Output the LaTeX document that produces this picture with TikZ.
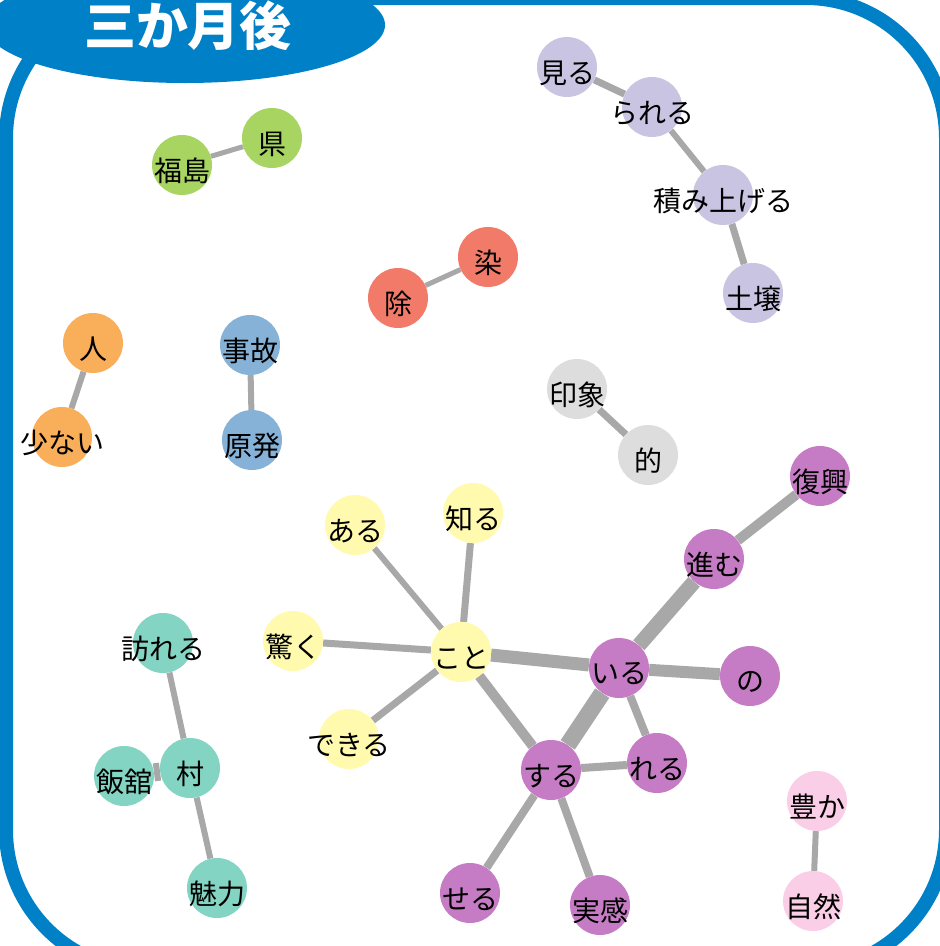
\documentclass[tikz,border=0pt]{standalone}
\usepackage{fontspec}
\newfontfamily\jp{Noto Sans CJK JP}
\usetikzlibrary{backgrounds}
\definecolor{frameblue}{RGB}{0,128,198}
\definecolor{edgegray}{RGB}{168,168,168}
\definecolor{cgreen}{RGB}{168,213,98}
\definecolor{csalmon}{RGB}{241,122,104}
\definecolor{clav}{RGB}{200,196,226}
\definecolor{corange}{RGB}{249,174,90}
\definecolor{cblue}{RGB}{134,178,216}
\definecolor{cgray}{RGB}{221,221,221}
\definecolor{cpurple}{RGB}{198,124,196}
\definecolor{cyellow}{RGB}{255,250,174}
\definecolor{cteal}{RGB}{132,212,195}
\definecolor{cpink}{RGB}{250,206,230}
\tikzset{
  wnode/.style={circle, minimum size=60pt, inner sep=0pt, draw=none},
  lbl/.style={font=\jp\fontsize{28}{28}\selectfont, text=black, inner sep=0pt, yshift=-6pt},
  conn/.style={draw=edgegray, line width=#1},
}
\newcommand{\wn}[5]{\node[wnode, fill=#1, label={[lbl]center:#5}] (#2) at (#3,#4) {};}
\begin{document}
\begin{tikzpicture}[x=1pt, y=-1pt]
\useasboundingbox (0,0) rectangle (940,946);
\begin{scope}
\clip (0,0) rectangle (940,946);
\draw[frameblue, line width=14pt, rounded corners=140pt] (6,-2) rectangle (946,970);
\fill[frameblue] (185,25) ellipse [x radius=200, y radius=58];
\node[font=\jp\bfseries\fontsize{52}{52}\selectfont, text=white] (title) at (188,26) {三か月後};
\end{scope}
% nodes
\wn{cgreen}{ken}{272}{138}{県}
\wn{cgreen}{fukushima}{182}{165}{福島}
\wn{csalmon}{sen}{488}{257}{染}
\wn{csalmon}{jo}{398}{298}{除}
\wn{clav}{miru}{567}{67}{見る}
\wn{clav}{rareru}{652}{107}{られる}
\wn{clav}{tsumi}{723}{195}{積み上げる}
\wn{clav}{dojo}{753}{293}{土壌}
\wn{corange}{hito}{93}{343}{人}
\wn{corange}{sukunai}{62}{437}{少ない}
\wn{cblue}{jiko}{250}{345}{事故}
\wn{cblue}{genpatsu}{252}{440}{原発}
\wn{cgray}{insho}{577}{389}{印象}
\wn{cgray}{teki}{648}{455}{的}
\wn{cpurple}{fukko}{820}{476}{復興}
\wn{cpurple}{susumu}{714}{559}{進む}
\wn{cpurple}{iru}{619}{668}{いる}
\wn{cpurple}{no}{750}{676}{の}
\wn{cpurple}{reru}{657}{763}{れる}
\wn{cpurple}{suru}{551}{770}{する}
\wn{cpurple}{seru}{470}{893}{せる}
\wn{cpurple}{jikkan}{600}{905}{実感}
\wn{cyellow}{koto}{461}{652}{こと}
\wn{cyellow}{aru}{355}{525}{ある}
\wn{cyellow}{shiru}{473}{513}{知る}
\wn{cyellow}{odoroku}{293}{641}{驚く}
\wn{cyellow}{dekiru}{349}{739}{できる}
\wn{cteal}{otozureru}{163}{643}{訪れる}
\wn{cteal}{iitate}{124}{776}{飯舘}
\wn{cteal}{mura}{190}{768}{村}
\wn{cteal}{maryoku}{217}{888}{魅力}
\wn{cpink}{yutaka}{817}{801}{豊か}
\wn{cpink}{shizen}{813}{901}{自然}
% connectors
\begin{scope}[on background layer]
\draw[conn=5] (fukushima) -- (ken);
\draw[conn=5] (jo) -- (sen);
\draw[conn=7] (miru) -- (rareru);
\draw[conn=6] (rareru) -- (tsumi);
\draw[conn=7] (tsumi) -- (dojo);
\draw[conn=6] (hito) -- (sukunai);
\draw[conn=6] (jiko) -- (genpatsu);
\draw[conn=7] (insho) -- (teki);
\draw[conn=6] (yutaka) -- (shizen);
\draw[conn=6] (otozureru) -- (mura);
\draw[conn=6] (mura) -- (maryoku);
\draw[conn=18] (iitate) -- (mura);
\draw[conn=6] (koto) -- (aru);
\draw[conn=7] (koto) -- (shiru);
\draw[conn=7] (koto) -- (odoroku);
\draw[conn=7] (koto) -- (dekiru);
\draw[conn=13] (koto) -- (iru);
\draw[conn=10] (koto) -- (suru);
\draw[conn=17] (iru) -- (suru);
\draw[conn=15] (iru) -- (susumu);
\draw[conn=10] (susumu) -- (fukko);
\draw[conn=12] (iru) -- (no);
\draw[conn=8] (iru) -- (reru);
\draw[conn=8] (suru) -- (reru);
\draw[conn=8] (suru) -- (seru);
\draw[conn=8] (suru) -- (jikkan);
\end{scope}
\end{tikzpicture}
\end{document}
